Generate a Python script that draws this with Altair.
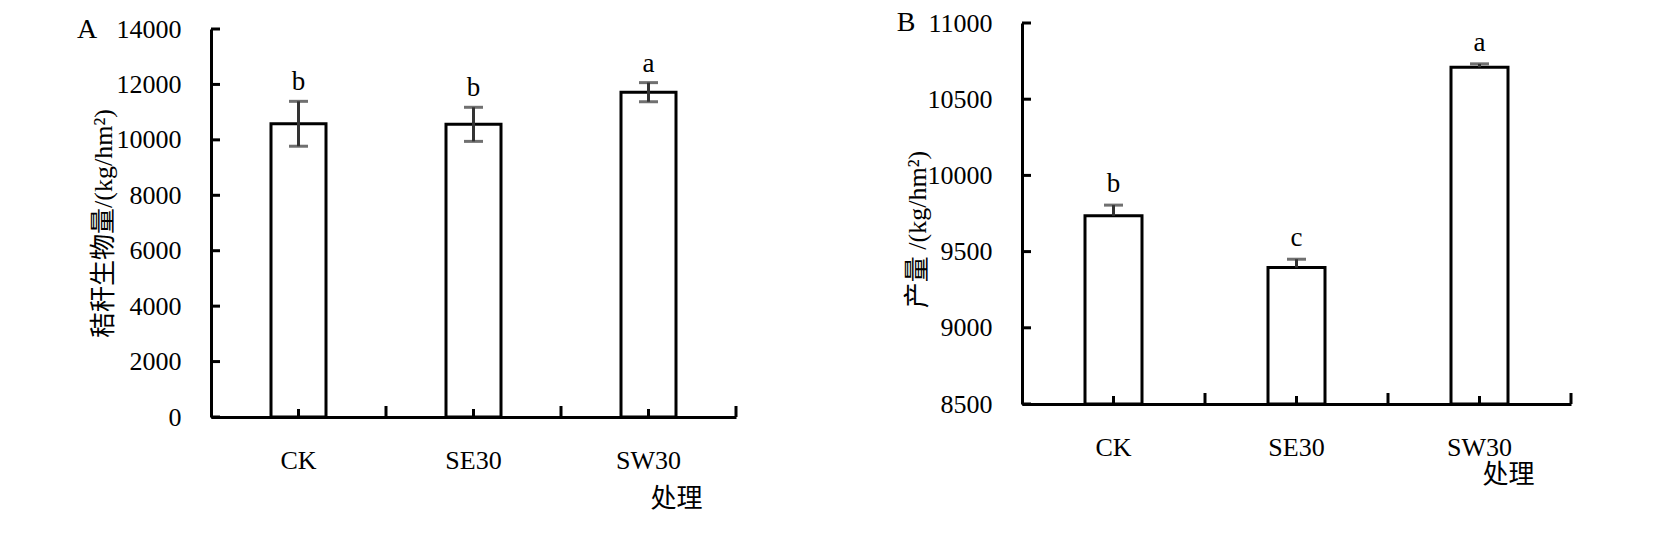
import altair as alt
import pandas as pd

# ---------------- data ----------------
categories = ["CK", "SE30", "SW30"]

straw_mean = [10580, 10560, 11720]
straw_err = [810, 615, 345]
straw_letters = ["b", "b", "a"]
straw_ticks = [0, 2000, 4000, 6000, 8000, 10000, 12000, 14000]

yield_mean = [9735, 9395, 10710]
yield_err = [70, 55, 22]
yield_letters = ["b", "c", "a"]
yield_ticks = [8500, 9000, 9500, 10000, 10500, 11000]

panel_labels = ["A", "B"]
y_titles = ["秸秆生物量/(kg/hm²)", "产量 /(kg/hm²)"]
x_title = "处理"

FONT = "Liberation Serif, Noto Sans CJK SC"


def panel(means, errs, letters, ticks, label, ytitle, W, H, top_off,
          bar_size, show_lower, letter_dy, label_xy, xtitle_xy, ytitle_xy):
    df = pd.DataFrame({"cat": categories, "mean": means, "err": errs,
                       "letter": letters})
    df["hi"] = df["mean"] + df["err"]
    df["lo"] = df["mean"] - df["err"] if show_lower else df["mean"]
    tick_df = pd.DataFrame({"t": ticks})
    lab_df = pd.DataFrame({"t": [label]})

    yscale = alt.Scale(domain=[ticks[0], ticks[-1]], range=[H, top_off],
                       nice=False, zero=False)
    xscale = alt.Scale(domain=categories, paddingInner=0, paddingOuter=0)

    xaxis = alt.Axis(title=x_title, titleX=xtitle_xy[0], titleY=xtitle_xy[1],
                     titleAlign="center", titleBaseline="middle",
                     titleFont=FONT, titleFontSize=26, titleFontWeight="normal",
                     titleColor="black", labelFont=FONT, labelFontSize=26,
                     labelColor="black", labelPadding=30, labelAngle=0,
                     ticks=False, tickSize=0, domainColor="black",
                     domainWidth=3, grid=False)
    yaxis = alt.Axis(title=ytitle, values=ticks, format="d",
                     titleX=ytitle_xy[0], titleY=ytitle_xy[1], titleAngle=270,
                     titleAlign="center", titleBaseline="middle",
                     titleFont=FONT, titleFontSize=26, titleFontWeight="normal",
                     titleColor="black", labelFont=FONT, labelFontSize=26,
                     labelColor="black", labelPadding=30, labelFlush=False,
                     ticks=False, tickSize=0, domainColor="black",
                     domainWidth=3, grid=False)

    x = alt.X("cat:N", scale=xscale, sort=categories, axis=xaxis)
    base = alt.Chart(df)

    bars = base.mark_bar(size=bar_size, fill="white", stroke="black",
                         strokeWidth=3).encode(
        x=x, y=alt.Y("mean:Q", scale=yscale, axis=yaxis, stack=None),
        y2=alt.datum(ticks[0]))

    err = base.mark_rule(color="#333333", strokeWidth=3).encode(
        x=x, y=alt.Y("lo:Q", scale=yscale, axis=yaxis), y2="hi:Q")
    cap_hi = base.mark_tick(orient="horizontal", size=19, thickness=3,
                            color="#333333").encode(
        x=x, y=alt.Y("hi:Q", scale=yscale, axis=yaxis))
    layers = [bars, err, cap_hi]
    if show_lower:
        cap_lo = base.mark_tick(orient="horizontal", size=19, thickness=3,
                                color="#333333").encode(
            x=x, y=alt.Y("lo:Q", scale=yscale, axis=yaxis))
        layers.append(cap_lo)

    letters_t = base.mark_text(font=FONT, fontSize=27, baseline="alphabetic",
                               dy=letter_dy, color="black").encode(
        x=x, y=alt.Y("hi:Q", scale=yscale, axis=yaxis), text="letter:N")

    ytick = alt.Chart(tick_df).mark_rule(color="black", strokeWidth=3).encode(
        y=alt.Y("t:Q", scale=yscale, axis=yaxis), x=alt.value(0), x2=alt.value(9))
    xtick_c = base.mark_rule(color="black", strokeWidth=3).encode(
        x=x, y=alt.value(H), y2=alt.value(H - 8))
    xtick_s = base.mark_rule(color="black", strokeWidth=3, xOffset=W / 6).encode(
        x=x, y=alt.value(H), y2=alt.value(H - 11))

    plab = alt.Chart(lab_df).mark_text(font=FONT, fontSize=28, align="center",
                                       baseline="middle", color="black").encode(
        x=alt.value(label_xy[0]), y=alt.value(label_xy[1]), text="t:N")

    layers += [letters_t, ytick, xtick_c, xtick_s, plab]
    return alt.layer(*layers).properties(width=W, height=H)


pA = panel(straw_mean, straw_err, straw_letters, straw_ticks, panel_labels[0],
           y_titles[0], W=525, H=394, top_off=6, bar_size=55, show_lower=True,
           letter_dy=-11, label_xy=(-124, 7), xtitle_xy=(465, 81),
           ytitle_xy=(-108, 200))
pB = panel(yield_mean, yield_err, yield_letters, yield_ticks, panel_labels[1],
           y_titles[1], W=549, H=381, top_off=0, bar_size=57, show_lower=False,
           letter_dy=-13, label_xy=(-116, 0), xtitle_xy=(486, 70),
           ytitle_xy=(-105, 206))

chart = alt.hconcat(pA, pB, spacing=286, bounds="flush").properties(
    padding={"left": 68, "top": 1, "right": 5, "bottom": 5},
    background="white",
).configure_view(stroke=None)

chart.save("out.html", embed_options={"renderer": "svg", "actions": False})
